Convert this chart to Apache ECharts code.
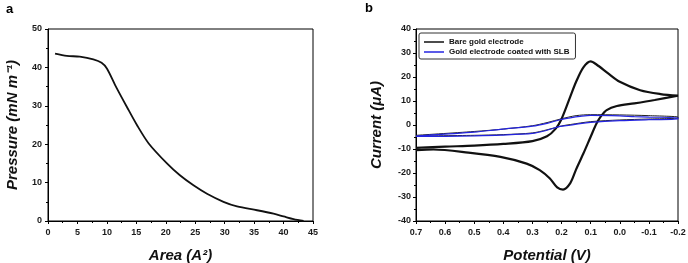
<!DOCTYPE html>
<html>
<head>
<meta charset="utf-8">
<script src="https://cdn.jsdelivr.net/npm/echarts@6/dist/echarts.min.js"></script>
<style>
html,body{margin:0;padding:0;background:#fff;}
#c{width:688px;height:263px;}
</style>
</head>
<body>
<div id="c"></div>
<script>
// Panel a: pressure-area isotherm
var areaValues = [1.2, 3.2, 5.4, 7.7, 9.1, 10.0, 11.4, 13.4, 15.1, 17.1, 20.2, 22.4, 24.7, 27.0, 29.8, 32.1, 35.5, 38.3, 40.0, 41.7, 43.4];
var pressureValues = [43.6, 43.0, 42.8, 42.1, 41.2, 39.7, 35.4, 29.7, 25.0, 20.2, 15.0, 11.9, 9.3, 7.1, 5.0, 3.8, 2.8, 1.9, 1.2, 0.5, 0.0];

// Panel b: cyclic voltammograms
var barePotential = [0.70, 0.60, 0.50, 0.40, 0.30, 0.25, 0.22, 0.20, 0.17, 0.15, 0.125, 0.10, 0.08, 0.04, 0.00, -0.07, -0.14, -0.20,
                     -0.20, -0.12, -0.05, 0.01, 0.045, 0.065, 0.08, 0.10, 0.125, 0.15, 0.17, 0.195, 0.215, 0.24, 0.275, 0.32, 0.41, 0.52, 0.64, 0.70];
var bareCurrent = [-9.5, -9.0, -8.6, -7.9, -6.7, -4.7, -1.5, 2.5, 11.8, 18.0, 24.0, 26.5, 25.2, 21.5, 18.0, 14.5, 12.9, 12.2,
                   12.4, 10.4, 9.0, 7.9, 6.2, 3.6, 0.6, -4.9, -11.9, -18.5, -24.2, -26.9, -26.0, -22.3, -18.8, -16.1, -13.3, -11.5, -10.2, -10.5];
var slbPotential = [0.70, 0.60, 0.50, 0.41, 0.30, 0.25, 0.205, 0.17, 0.136, 0.10, 0.00, -0.05, -0.10, -0.20,
                    -0.20, -0.10, 0.00, 0.10, 0.136, 0.17, 0.205, 0.25, 0.30, 0.41, 0.50, 0.60, 0.70];
var slbCurrent = [-4.6, -3.8, -3.0, -1.8, -0.5, 0.7, 2.2, 3.0, 3.6, 4.0, 3.8, 3.5, 3.3, 3.0,
                  2.5, 2.2, 1.8, 1.1, 0.6, -0.1, -0.6, -2.2, -3.5, -4.2, -4.5, -4.7, -4.8];
// second (dark) trace that runs alongside the SLB loop
var slbDarkPotential = [0.70, 0.50, 0.40, 0.30, 0.25, 0.20, 0.15, 0.10, 0.00, -0.10, -0.20,
                        -0.20, -0.10, 0.00, 0.10, 0.17, 0.20, 0.25, 0.30, 0.40, 0.50, 0.70];
var slbDarkCurrent = [-4.3, -2.7, -1.7, -0.3, 1.0, 2.6, 3.9, 4.3, 4.2, 3.9, 3.3,
                      2.9, 2.5, 2.1, 1.4, 0.2, -0.4, -2.0, -3.3, -4.0, -4.3, -4.6];

var seriesNames = ['Bare gold electrode', 'Gold electrode coated with SLB'];

function pairs(xs, ys) { return xs.map(function (x, i) { return [x, ys[i]]; }); }

var FONT = '"Liberation Sans", Arial, sans-serif';
var labelStyle = { fontFamily: FONT, fontWeight: 'bold', fontSize: 9, color: '#1a1a1a' };
var nameStyle = { fontFamily: FONT, fontWeight: 'bold', fontStyle: 'italic', fontSize: 15, color: '#111' };

function axisCommon(extra) {
  var base = {
    type: 'value',
    axisLine: { show: true, onZero: false, lineStyle: { color: '#000', width: 1 } },
    axisTick: { show: true, inside: false, length: 3, lineStyle: { color: '#000' } },
    minorTick: { show: true, splitNumber: 2, length: 2, lineStyle: { color: '#000' } },
    splitLine: { show: false },
    minorSplitLine: { show: false },
    nameLocation: 'middle',
    nameTextStyle: nameStyle
  };
  for (var k in extra) base[k] = extra[k];
  return base;
}

var chart = echarts.init(document.getElementById('c'), null, { renderer: 'canvas' });
chart.setOption({
  animation: false,
  backgroundColor: '#fff',
  title: [
    { text: 'a', left: 6, top: 3, padding: 0, textStyle: { fontFamily: FONT, fontWeight: 'bold', fontSize: 13, color: '#000' } },
    { text: 'b', left: 365, top: 2, padding: 0, textStyle: { fontFamily: FONT, fontWeight: 'bold', fontSize: 13, color: '#000' } }
  ],
  grid: [
    { left: 48, right: 375, top: 29, bottom: 42, outerBoundsMode: 'none', containLabel: false, show: true, borderColor: '#000', borderWidth: 1, backgroundColor: 'transparent' },
    { left: 416, right: 10, top: 29, bottom: 42, outerBoundsMode: 'none', containLabel: false, show: true, borderColor: '#000', borderWidth: 1, backgroundColor: 'transparent' }
  ],
  legend: {
    data: seriesNames,
    orient: 'vertical',
    left: 419, top: 33,
    icon: 'rect',
    itemWidth: 20, itemHeight: 1.5,
    itemGap: 0,
    padding: [4, 6, 2, 5],
    borderColor: '#333', borderWidth: 1, borderRadius: 2,
    textStyle: { fontFamily: FONT, fontWeight: 'bold', fontSize: 8, lineHeight: 10, color: '#111' }
  },
  xAxis: [
    axisCommon({
      gridIndex: 0, min: 0, max: 45, interval: 5,
      name: 'Area (A²)', nameGap: 27,
      axisLabel: Object.assign({ margin: 7 }, labelStyle)
    }),
    axisCommon({
      gridIndex: 1, min: -0.2, max: 0.7, interval: 0.1, inverse: true,
      name: 'Potential (V)', nameGap: 27,
      axisLabel: Object.assign({ margin: 7, formatter: function (v) { return (Math.abs(v) < 1e-9 ? 0 : v).toFixed(1); } }, labelStyle)
    })
  ],
  yAxis: [
    axisCommon({
      gridIndex: 0, min: 0, max: 50, interval: 10,
      name: 'Pressure (mN m⁻¹)', nameGap: 28,
      axisLabel: Object.assign({ margin: 6 }, labelStyle)
    }),
    axisCommon({
      gridIndex: 1, min: -40, max: 40, interval: 10,
      name: 'Current (μA)', nameGap: 32,
      axisLabel: Object.assign({ margin: 5 }, labelStyle)
    })
  ],
  series: [
    {
      type: 'line', xAxisIndex: 0, yAxisIndex: 0, symbol: 'none', smooth: 0.3,
      lineStyle: { color: '#111', width: 1.8 },
      data: pairs(areaValues, pressureValues)
    },
    {
      type: 'line', xAxisIndex: 1, yAxisIndex: 1, symbol: 'none', smooth: 0.3,
      lineStyle: { color: '#222', width: 1 },
      data: pairs(slbDarkPotential, slbDarkCurrent)
    },
    {
      name: seriesNames[0], type: 'line', xAxisIndex: 1, yAxisIndex: 1, symbol: 'none', smooth: 0.3,
      color: '#111',
      lineStyle: { color: '#111', width: 2.2 },
      data: pairs(barePotential, bareCurrent)
    },
    {
      name: seriesNames[1], type: 'line', xAxisIndex: 1, yAxisIndex: 1, symbol: 'none', smooth: 0.3,
      color: '#2424e0',
      lineStyle: { color: '#2424e0', width: 1.2 },
      data: pairs(slbPotential, slbCurrent)
    }
  ]
});
</script>
</body>
</html>
